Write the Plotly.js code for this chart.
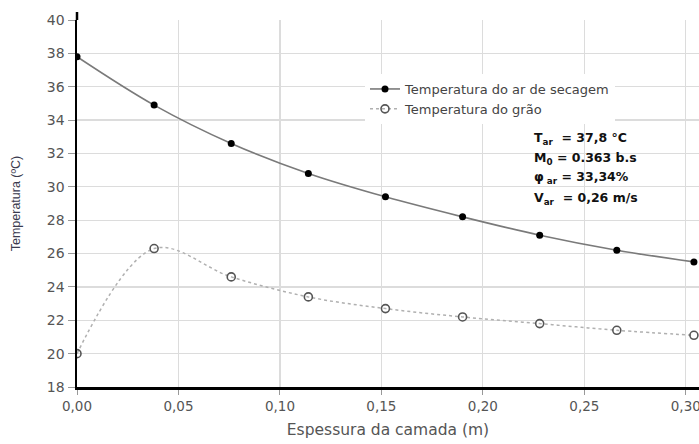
<!DOCTYPE html>
<html>
<head>
<meta charset="utf-8">
<script src="https://cdn.plot.ly/plotly-3.0.1.min.js"></script>
<style>html,body{margin:0;padding:0;background:#fff;}#chart{width:699px;height:444px;}</style>
</head>
<body>
<div id="chart"></div>
<script>
// Data
const espessura = [0, 0.038, 0.076, 0.114, 0.152, 0.190, 0.228, 0.266, 0.304];
const tempAr = [37.8, 34.9, 32.6, 30.8, 29.4, 28.2, 27.1, 26.2, 25.5];
const tempGrao = [20.0, 26.3, 24.6, 23.4, 22.7, 22.2, 21.8, 21.4, 21.1];
const serieNomes = ["Temperatura do ar de secagem", "Temperatura do grão"];
const infoLinhas = [
  "T<sub>ar</sub>  = 37,8 °C",
  "M<sub>0</sub> = 0.363 b.s",
  "φ<sub> ar</sub> = 33,34%",
  "V<sub>ar</sub>  = 0,26 m/s"
];
const xTitulo = "Espessura da camada (m)";
const yTitulo = "Temperatura (ºC)";

const W = 699, H = 444;
const mL = 77, mR = 0, mT = 20, mB = 57;
const pw = W - mL - mR, ph = H - mT - mB;
const px = v => (v - mL) / pw;          // pixel -> paper x
const py = v => 1 - (v - mT) / ph;      // pixel -> paper y

const traces = [
  {
    x: espessura, y: tempAr, name: serieNomes[0],
    mode: "lines+markers", type: "scatter",
    line: {color: "#7a7a7a", width: 1.6, shape: "spline"},
    marker: {color: "#000", size: 7, symbol: "circle"}
  },
  {
    x: espessura, y: tempGrao, name: serieNomes[1],
    mode: "lines+markers", type: "scatter",
    line: {color: "#b0b0b0", width: 1.5, dash: "dot", shape: "spline"},
    marker: {color: "#555", size: 8, symbol: "circle-open", line: {color: "#555", width: 1.6}}
  }
];

const annotations = infoLinhas.map((t, i) => ({
  xref: "paper", yref: "paper",
  x: px(532), y: py(138 + i * 20),
  xanchor: "left", yanchor: "middle",
  text: "<b>" + t + "</b>", showarrow: false,
  font: {family: "DejaVu Sans", size: 12.5, color: "#111"}
}));

const layout = {
  width: W, height: H,
  margin: {l: mL, r: mR, t: mT, b: mB, pad: 0},
  paper_bgcolor: "#fff", plot_bgcolor: "#fff",
  separators: ",.",
  showlegend: true,
  legend: {
    x: px(365), y: py(74), xanchor: "left", yanchor: "top",
    bgcolor: "#fff", borderwidth: 0,
    font: {family: "DejaVu Sans", size: 13, color: "#444"},
    tracegroupgap: 0
  },
  xaxis: {
    range: [0, 0.3065], dtick: 0.05, tick0: 0, tickformat: ".2f",
    showgrid: true, gridcolor: "#dcdcdc", gridwidth: 1.2,
    zeroline: false,
    showline: true, linecolor: "#000", linewidth: 2.5,
    ticks: "outside", ticklen: 5, tickcolor: "#999", tickwidth: 1,
    ticklabeloverflow: "allow",
    tickfont: {family: "DejaVu Sans", size: 13.5, color: "#555"},
    title: {text: xTitulo, font: {family: "DejaVu Sans", size: 15.5, color: "#555"}, standoff: 12}
  },
  yaxis: {
    range: [18, 40], dtick: 2, tick0: 18,
    showgrid: true, gridcolor: "#dcdcdc", gridwidth: 1.2,
    zeroline: false,
    showline: true, linecolor: "#000", linewidth: 2.5,
    ticks: "outside", ticklen: 7, tickcolor: "#999", tickwidth: 1,
    tickfont: {family: "DejaVu Sans", size: 14, color: "#555"},
    title: {text: yTitulo, font: {family: "Liberation Sans", size: 12.5, color: "#3a3a4e"}, standoff: 24}
  },
  shapes: [
    {type: "rect", xref: "paper", yref: "paper", x0: px(343), x1: px(673), y0: py(128), y1: py(72),
     fillcolor: "#fff", line: {width: 0}, layer: "between"},
    {type: "line", xref: "paper", yref: "paper", x0: 0, x1: 0, y0: 1, y1: py(12),
     line: {color: "#000", width: 2.5}, layer: "above"}
  ],
  annotations: annotations
};

Plotly.newPlot("chart", traces, layout, {displayModeBar: false, staticPlot: true});
</script>
</body>
</html>
